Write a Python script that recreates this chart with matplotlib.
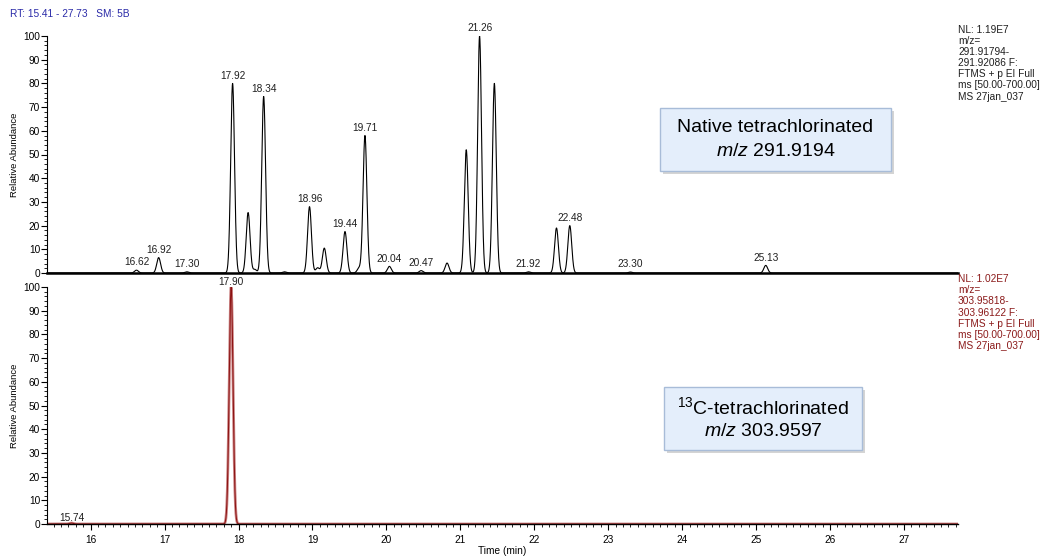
import numpy as np
import matplotlib.pyplot as plt
from matplotlib.patches import Rectangle
from matplotlib.ticker import MultipleLocator

plt.rcParams['font.family'] = ['Liberation Sans', 'DejaVu Sans']
plt.rcParams['mathtext.fontset'] = 'custom'
plt.rcParams['mathtext.rm'] = 'Liberation Sans'
plt.rcParams['mathtext.it'] = 'Liberation Sans:italic'

# retention-time window
rt_start, rt_end = 15.41, 27.73

# native tetrachlorinated trace (m/z 291.9194): peak centres (min) and relative heights
native_rt = [16.62, 16.92, 17.30, 17.92, 18.13, 18.22, 18.34, 18.62, 18.96, 19.07, 19.16,
             19.44, 19.63, 19.71, 20.04, 20.47, 20.82, 21.08, 21.26, 21.46, 21.92,
             22.30, 22.48, 23.30, 25.13]
native_h = [1.2, 6.5, 0.5, 80, 25.5, 1.5, 74.5, 0.5, 28, 2.2, 10.5,
            17.5, 2.0, 58, 2.8, 1.0, 4.2, 52, 100, 80, 0.5,
            19, 20, 0.4, 3.2]
native_labels = [16.62, 16.92, 17.30, 17.92, 18.34, 18.96, 19.44, 19.71, 20.04, 20.47,
                 21.26, 21.92, 22.48, 23.30, 25.13]

# 13C-tetrachlorinated trace (m/z 303.9597)
c13_rt = [15.74, 17.90]
c13_h = [0.4, 100]
c13_labels = [15.74, 17.90]

peak_sigma = 0.026

top_info = ["NL: 1.19E7", "m/z=", "291.91794-", "291.92086 F:", "FTMS + p EI Full",
            "ms [50.00-700.00]", "MS 27jan_037"]
bot_info = ["NL: 1.02E7", "m/z=", "303.95818-", "303.96122 F:", "FTMS + p EI Full",
            "ms [50.00-700.00]", "MS 27jan_037"]

t = np.linspace(rt_start, rt_end, 8000)


def trace(centres, heights):
    y = np.zeros_like(t)
    for c, h in zip(centres, heights):
        y += h * np.exp(-0.5 * ((t - c) / peak_sigma) ** 2)
    return y


W, H = 1042, 558
fig = plt.figure(figsize=(W / 100, H / 100), dpi=100)


def px(x0, y0, x1, y1):
    return [x0 / W, 1 - y1 / H, (x1 - x0) / W, (y1 - y0) / H]


ax1 = fig.add_axes(px(47, 36, 958, 273))
ax2 = fig.add_axes(px(47, 287, 958, 524))


def style(ax, show_x):
    ax.set_xlim(rt_start, rt_end)
    ax.set_ylim(0, 100)
    ax.spines['top'].set_visible(False)
    ax.spines['right'].set_visible(False)
    ax.yaxis.set_major_locator(MultipleLocator(10))
    ax.yaxis.set_minor_locator(MultipleLocator(2))
    ax.tick_params(axis='y', which='major', length=4, width=0.8, labelsize=7.3, pad=1)
    ax.tick_params(axis='y', which='minor', length=2, width=0.6)
    ax.set_ylabel("Relative Abundance", fontsize=6.8, labelpad=3)
    if show_x:
        ax.xaxis.set_major_locator(MultipleLocator(1))
        ax.xaxis.set_minor_locator(MultipleLocator(0.1))
        ax.tick_params(axis='x', which='major', length=4, width=0.8, labelsize=7.3, pad=4)
        ax.tick_params(axis='x', which='minor', length=2, width=0.6)
    else:
        ax.tick_params(axis='x', which='both', bottom=False, labelbottom=False)


style(ax1, False)
style(ax2, True)
ax1.spines['bottom'].set_linewidth(1.8)
ax2.spines['bottom'].set_linewidth(1.0)
ax2.set_xlabel("Time (min)", fontsize=7.3, labelpad=1)

y1 = trace(native_rt, native_h)
y2 = trace(c13_rt, c13_h)
ax1.plot(t, y1, color='black', lw=0.8)
ax2.plot(t, y2, color='#c98080', lw=2.0)
ax2.plot(t, y2, color='#8b1010', lw=0.7)


def label_peaks(ax, y, labels, gap):
    for lab in labels:
        win = np.abs(t - lab) < 0.04
        top = y[win].max()
        ax.annotate(f"{lab:.2f}", (lab, top), xytext=(0, gap), textcoords='offset points',
                    ha='center', va='bottom', fontsize=7.3, color='#202020',
                    annotation_clip=False)


label_peaks(ax1, y1, native_labels, 2)
label_peaks(ax2, y2, c13_labels, 0)

fig.text(10 / W, 1 - 14 / H, "RT: 15.41 - 27.73   SM: 5B", fontsize=7.3, color='#2a2aa8',
         va='center')

for i, line in enumerate(top_info):
    fig.text(958 / W, 1 - (30 + i * 11.1) / H, line, fontsize=7.3, color='#202020', va='center')
for i, line in enumerate(bot_info):
    fig.text(958 / W, 1 - (279 + i * 11.2) / H, line, fontsize=7.3, color='#8b1a1a', va='center')


def note_box(x0, y0, x1, y1, lines):
    fig.patches.append(Rectangle(((x0 + 3) / W, 1 - (y1 + 3) / H), (x1 - x0) / W, (y1 - y0) / H,
                                 transform=fig.transFigure, fc='#b8b8b8', ec='none', alpha=0.6))
    fig.patches.append(Rectangle((x0 / W, 1 - y1 / H), (x1 - x0) / W, (y1 - y0) / H,
                                 transform=fig.transFigure, fc='#e4eefb', ec='#a8bcd8', lw=1))
    cx = (x0 + x1) / 2 / W
    fig.text(cx, 1 - (y0 + 20) / H, lines[0], fontsize=14, ha='center', va='center')
    fig.text(cx, 1 - (y0 + 44) / H, lines[1], fontsize=14, ha='center', va='center')


note_box(660, 108, 891, 171, ["Native tetrachlorinated", r"$m/z$ 291.9194"])
note_box(664, 387, 862, 450, [r"$^{13}$C-tetrachlorinated", r"$m/z$ 303.9597"])

fig.savefig("out.png", dpi=100)
